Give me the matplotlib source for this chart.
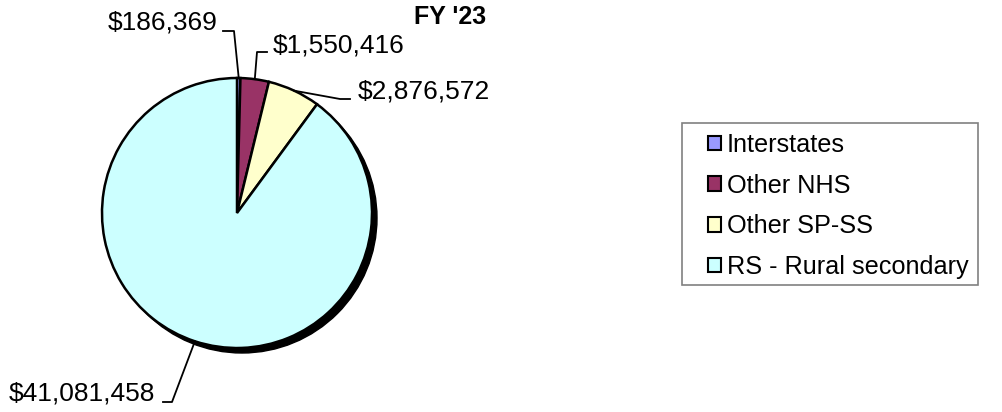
import numpy as np
import matplotlib
matplotlib.use("Agg")
from matplotlib import pyplot as plt
from matplotlib.patches import Rectangle

plt.rcParams['font.family'] = ['Liberation Sans', 'DejaVu Sans']

categories = ['Interstates', 'Other NHS', 'Other SP-SS', 'RS - Rural secondary']
amounts = [186369, 1550416, 2876572, 41081458]
colors = ['#9999FF', '#993366', '#FFFFCC', '#CCFFFF']
title = "FY '23"

W, H = 1002, 412
fig = plt.figure(figsize=(W / 100, H / 100), dpi=100)
ax = fig.add_axes([0, 0, 1, 1])

# pixel coords measured from the top, flipped for the axes
def py(y):
    return H - y

cx, cy, r = 237, py(213), 135

# drop shadow
shadow = plt.Circle((cx + 5, cy - 5), r, color='black', zorder=1)
ax.add_patch(shadow)

wedges, _ = ax.pie(amounts, colors=colors, startangle=90, counterclock=False,
                   center=(cx, cy), radius=r, frame=True,
                   wedgeprops=dict(edgecolor='black', linewidth=1.8))
for w in wedges:
    w.set_zorder(2)
ax.set_xlim(0, W)
ax.set_ylim(0, H)
ax.set_aspect('equal')
ax.axis('off')

# label placement: text anchor, alignment, elbow start/end of the leader line
label_layout = [
    dict(tx=218, ty=22, ha='right', elbow=((223, 31), (234, 31))),
    dict(tx=273, ty=45, ha='left', elbow=((267, 52), (257, 52))),
    dict(tx=358, ty=91, ha='left', elbow=((350, 99), (340, 99))),
    dict(tx=155, ty=393, ha='right', elbow=((163, 402), (172, 402))),
]

for w, val, lay in zip(wedges, amounts, label_layout):
    mid = np.deg2rad((w.theta1 + w.theta2) / 2)
    ex = cx + r * np.cos(mid)
    ey = cy + r * np.sin(mid)
    (x0, y0), (x1, y1) = lay['elbow']
    ax.plot([x0, x1, ex], [py(y0), py(y1), ey], color='black', lw=1.3, zorder=3)
    ax.text(lay['tx'], py(lay['ty']), f'${val:,}', ha=lay['ha'], va='center',
            fontsize=19, zorder=4)

ax.text(450, py(17), title, ha='center', va='center', fontsize=18,
        fontweight='bold')

# legend box drawn separately so the entries can sit inset from its left edge
ax.add_patch(Rectangle((682, py(285)), 296, 162, facecolor='white',
                       edgecolor='#808080', linewidth=1.2, zorder=5))
leg = ax.legend(wedges, categories, loc='center left',
                bbox_to_anchor=(708, py(206)), bbox_transform=ax.transData,
                fontsize=18.2, frameon=False, borderaxespad=0, borderpad=0,
                handlelength=0.52, handleheight=0.52, handletextpad=0.22,
                labelspacing=0.66)
leg.set_zorder(6)
for h in leg.legend_handles:
    h.set_linewidth(1.5)

fig.savefig('out.png', dpi=100)
